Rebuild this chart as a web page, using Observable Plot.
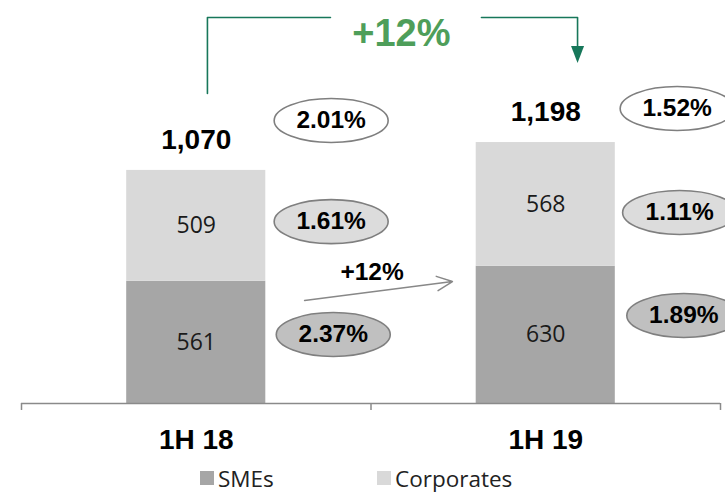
<!DOCTYPE html>
<html><head><meta charset="utf-8">
<script src="https://cdn.jsdelivr.net/npm/d3@7"></script>
<script src="https://cdn.jsdelivr.net/npm/@observablehq/plot@0.6"></script>
<style>
body{margin:0;background:#fff;}
#chart{width:725px;}
.legend{position:relative;width:725px;height:32px;font-family:"Open Sans",sans-serif;font-size:22.5px;color:#222;}
.legend .item{position:absolute;top:2px;height:32px;display:flex;align-items:center;}
.legend .sw{width:14px;height:14px;margin-right:4px;}
</style></head><body><div id="chart"></div><div class="legend" id="legend"></div>
<script>
// ---- data ----
const categories = ["1H 18", "1H 19"];
const smes = [561, 630];
const corporates = [509, 568];
const totalRates = ["2.01%", "1.52%"];
const corporateRates = ["1.61%", "1.11%"];
const smeRates = ["2.37%", "1.89%"];
const growthTotal = "+12%";
const growthSmes = "+12%";
const seriesNames = ["SMEs", "Corporates"];
const seriesColors = ["#a6a6a6", "#d9d9d9"];

// ---- annotation anchors (data units: x = category index, y = value) ----
const totalRateY = [1299, 1354];
const corporateRateY = [835, 877];
const smeRateY = [317, 404];
const rateOffsetX = [[0.386, 0.376], [0.386, 0.383], [0.392, 0.395]];
const barHalf = 0.199;
const bracketLeft = [{x: 0.032, y: 1423}, {x: 0.032, y: 1772}, {x: 0.384, y: 1772}];
const bracketRight = [{x: 0.816, y: 1772}, {x: 1.091, y: 1772}, {x: 1.091, y: 1610}];
const bracketHead = [{x: 1.091, y: 1600}];
const growthTotalPos = [{x: 0.587, y: 1695}];
const smeArrow = [{x1: 0.31, y1: 473, x2: 0.733, y2: 560}];
const growthSmesPos = [{x: 0.503, y: 603}];

// ---- derived tables ----
const segments = categories.flatMap((c, i) => [
  {i, series: "SMEs", value: smes[i], y1: 0, y2: smes[i]},
  {i, series: "Corporates", value: corporates[i], y1: smes[i], y2: smes[i] + corporates[i]}
]);
const totals = categories.map((c, i) => ({i, c, total: smes[i] + corporates[i]}));
const rateRows = (labels, ys, offs) => labels.map((t, i) => ({x: i + offs[i], y: ys[i], t}));

const ellipse = {draw(ctx) {
  const rx = 57, ry = 22, k = 0.5523;
  ctx.moveTo(rx, 0);
  ctx.bezierCurveTo(rx, ry * k, rx * k, ry, 0, ry);
  ctx.bezierCurveTo(-rx * k, ry, -rx, ry * k, -rx, 0);
  ctx.bezierCurveTo(-rx, -ry * k, -rx * k, -ry, 0, -ry);
  ctx.bezierCurveTo(rx * k, -ry, rx, -ry * k, rx, 0);
  ctx.closePath();
}};
const downTriangle = {draw(ctx) {
  ctx.moveTo(-6.5, -9); ctx.lineTo(6.5, -9); ctx.lineTo(0, 8); ctx.closePath();
}};

const bold = "Liberation Sans, Arial, sans-serif";
const rateMark = (labels, ys, offs, fill) => [
  Plot.dot(rateRows(labels, ys, offs), {x: "x", y: "y", symbol: ellipse, r: 10, fill, stroke: "#7f7f7f", strokeWidth: 1.6}),
  Plot.text(rateRows(labels, ys, offs), {x: "x", y: "y", text: "t", fontSize: 24.5, fontWeight: "bold", fill: "#000", fontFamily: bold})
];

const chart = Plot.plot({
  width: 725, height: 460,
  marginLeft: 21, marginRight: 5, marginTop: 0, marginBottom: 57,
  style: {fontFamily: bold, background: "#fff"},
  x: {type: "linear", domain: [-0.5, 1.5], axis: null},
  y: {domain: [0, 1850], axis: null},
  color: {domain: seriesNames, range: seriesColors},
  marks: [
    Plot.rect(segments, {x1: d => d.i - barHalf, x2: d => d.i + barHalf, y1: "y1", y2: "y2", fill: "series"}),
    Plot.text(segments, {x: "i", y: d => (d.y1 + d.y2) / 2, text: d => String(d.value), fontSize: 23, fill: "#1a1a1a", fontFamily: "Open Sans, sans-serif"}),
    Plot.text(totals, {x: "i", y: "total", dy: -30, text: d => d3.format(",")(d.total), fontSize: 28, fontWeight: "bold", fill: "#000"}),
    Plot.ruleY([0], {stroke: "#8a8a8a", strokeWidth: 1.5}),
    Plot.ruleX([-0.5, 0.5, 1.5], {y1: 0, y2: -32, stroke: "#8a8a8a", strokeWidth: 1.5}),
    Plot.text(totals, {x: "i", y: 0, dy: 37, text: "c", fontSize: 28, fontWeight: "bold", fill: "#000"}),
    ...rateMark(totalRates, totalRateY, rateOffsetX[0], "#ffffff"),
    ...rateMark(corporateRates, corporateRateY, rateOffsetX[1], "#dcdcdc"),
    ...rateMark(smeRates, smeRateY, rateOffsetX[2], "#c0c0c0"),
    Plot.arrow(smeArrow, {x1: "x1", y1: "y1", x2: "x2", y2: "y2", stroke: "#888", strokeWidth: 1.5, headLength: 17, headAngle: 50}),
    Plot.text(growthSmesPos, {x: "x", y: "y", text: () => growthSmes, fontSize: 24.5, fontWeight: "bold", fill: "#000"}),
    Plot.line(bracketLeft, {x: "x", y: "y", stroke: "#17775a", strokeWidth: 1.6}),
    Plot.line(bracketRight, {x: "x", y: "y", stroke: "#17775a", strokeWidth: 1.6}),
    Plot.dot(bracketHead, {x: "x", y: "y", symbol: downTriangle, r: 8, fill: "#17775a", stroke: "none"}),
    Plot.text(growthTotalPos, {x: "x", y: "y", text: () => growthTotal, fontSize: 38, fontWeight: "bold", fill: "#4e9e5a"})
  ]
});
document.getElementById("chart").appendChild(chart);

const legend = document.getElementById("legend");
const legendX = [200, 377];
seriesNames.forEach((name, k) => {
  const item = document.createElement("div");
  item.className = "item";
  item.style.left = legendX[k] + "px";
  item.innerHTML = `<span class="sw" style="background:${seriesColors[k]}"></span><span>${name}</span>`;
  legend.appendChild(item);
});
</script></body></html>
